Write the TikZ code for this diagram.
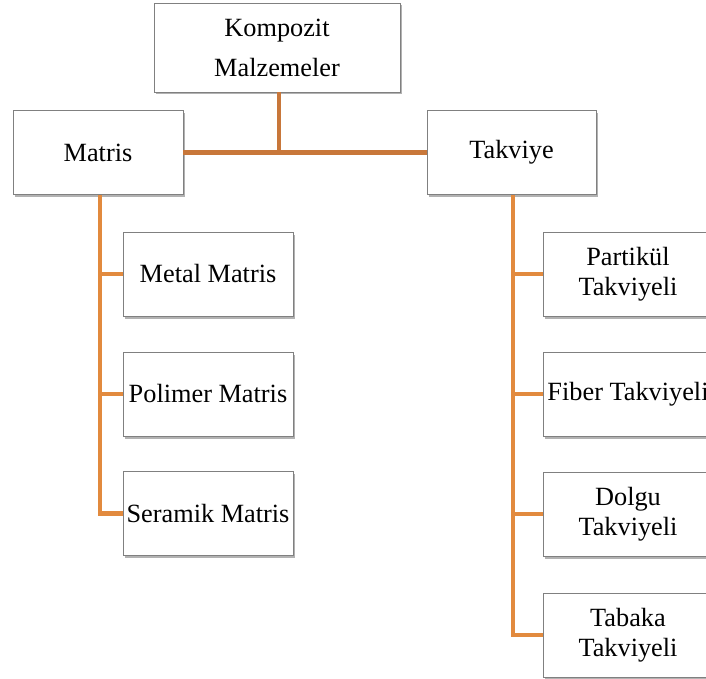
\documentclass[tikz,border=0pt]{standalone}
\usepackage{fontspec}
\setmainfont{Liberation Serif}
\usetikzlibrary{shadows}
\definecolor{linkdark}{HTML}{C8773A}
\definecolor{linklight}{HTML}{E28A3E}
\definecolor{boxline}{HTML}{808080}
\tikzset{
  box/.style={draw=boxline, line width=0.9pt, fill=white, inner xsep=1pt, inner ysep=0pt,
    minimum width=170pt, minimum height=84pt, align=center,
    font=\fontsize{26.3}{30}\selectfont,
    drop shadow={shadow xshift=1.5pt, shadow yshift=-2.5pt, opacity=0.3, fill=black}},
  topbox/.style={box, minimum width=246pt, minimum height=89pt, font=\fontsize{26.3}{40}\selectfont},
  mainlink/.style={draw=linkdark, line width=4.5pt},
  sublink/.style={draw=linklight, line width=4.5pt},
}
\begin{document}
\begin{tikzpicture}[x=1pt,y=-1pt]
\useasboundingbox (0,0) rectangle (706,679);
\clip (0,0) rectangle (706,679);
% nodes
\node[topbox] (top) at (277,47.5) {Kompozit\\Malzemeler};
\node[box] (matris) at (98,152.5) {Matris};
\node[box, minimum width=169pt] (takviye) at (511.5,152.5) {Takviye};
\node[box] (metal) at (208,274) {Metal Matris};
\node[box] (polimer) at (208,394) {Polimer Matris};
\node[box] (seramik) at (208,513.5) {Seramik Matris};
\node[box] (partikul) at (628,274) {Partikül\\Takviyeli};
\node[box] (fiber) at (628,394) {Fiber Takviyeli};
\node[box] (dolgu) at (628,514) {Dolgu\\Takviyeli};
\node[box] (tabaka) at (628,635) {Tabaka\\Takviyeli};
% connectors
\path[mainlink] (matris.east) -- (matris.east -| takviye.west);
\path[mainlink] ([xshift=2pt]top.south) -- ([xshift=2pt]top.south |- matris.east);
\path[sublink] ([xshift=2pt]matris.south) |- (seramik.west);
\path[sublink] ([xshift=2pt]matris.south |- metal.west) -- (metal.west);
\path[sublink] ([xshift=2pt]matris.south |- polimer.west) -- (polimer.west);
\path[sublink] ([xshift=1.5pt]takviye.south) |- (tabaka.west);
\path[sublink] ([xshift=1.5pt]takviye.south |- partikul.west) -- (partikul.west);
\path[sublink] ([xshift=1.5pt]takviye.south |- fiber.west) -- (fiber.west);
\path[sublink] ([xshift=1.5pt]takviye.south |- dolgu.west) -- (dolgu.west);
\end{tikzpicture}
\end{document}
